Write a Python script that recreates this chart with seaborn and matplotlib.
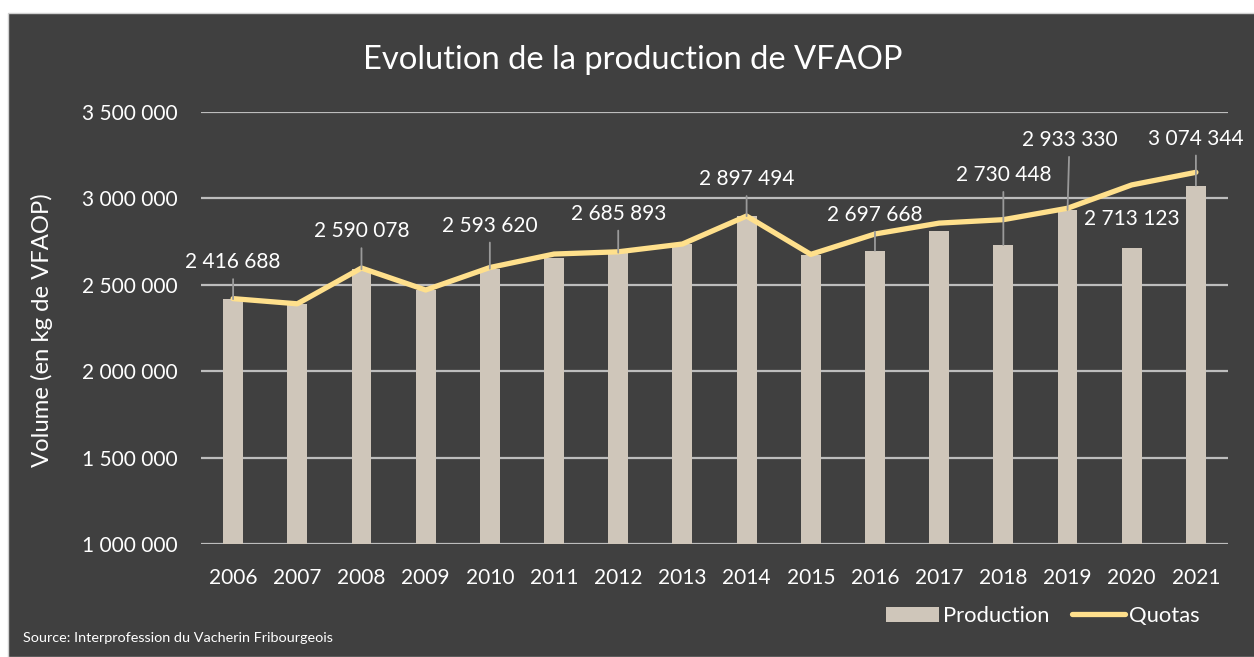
import numpy as np
import pandas as pd
import matplotlib
matplotlib.use("Agg")
import matplotlib.pyplot as plt
import seaborn as sns
from matplotlib.patches import Rectangle, Patch
from matplotlib.lines import Line2D

# ---------------- data ----------------
years = [str(y) for y in range(2006, 2022)]
production = [2416688, 2389000, 2590078, 2470000, 2593620, 2655000, 2685893, 2734000,
              2897494, 2672000, 2697668, 2811000, 2730448, 2933330, 2713123, 3074344]
quotas = [2420000, 2390000, 2597000, 2470000, 2600000, 2678000, 2691000, 2736000,
          2898000, 2676000, 2794000, 2857000, 2877000, 2943000, 3078000, 3151000]
labelled_years = ["2006", "2008", "2010", "2012", "2014", "2016", "2018", "2019", "2020", "2021"]
y_ticks = [1000000, 1500000, 2000000, 2500000, 3000000, 3500000]

title = "Evolution de la production de VFAOP"
y_label = "Volume (en kg de VFAOP)"
source = "Source: Interprofession du Vacherin Fribourgeois"
legend_labels = ["Production", "Quotas"]

# label placement (pixel offsets from bar top, leader line on/off)
label_layout = {
    "2006": (0, 37, True), "2008": (0, 38, True), "2010": (0, 43, True),
    "2012": (0, 39, True), "2014": (0, 37, True), "2016": (0, 36, True),
    "2018": (0, 70, True), "2019": (2, 70, True), "2020": (0, 29, False),
    "2021": (0, 47, True),
}

# ---------------- style ----------------
BG = "#404040"
BAR = "#CFC6BA"
LINE = "#FFE08C"
GRID = "#BDBDBD"
LEADER = "#9A9A9A"
TXT = "#FFFFFF"

def fmt(v):
    return f"{int(v):,}".replace(",", " ")

plt.rcParams["font.family"] = ["Lato", "DejaVu Sans"]

W, H = 1254, 657
fig = plt.figure(figsize=(W / 100, H / 100), dpi=100, facecolor="white")
fig.patches.append(Rectangle((8 / W, 0), 1, (H - 13) / H, transform=fig.transFigure,
                             facecolor=BG, edgecolor="#D0D0D0", linewidth=1.0, zorder=-10))

ax = fig.add_axes([201 / W, 1 - 544 / H, (1228 - 201) / W, (544 - 112) / H])
ax.set_facecolor("none")

df = pd.DataFrame({"year": years, "production": production, "quotas": quotas})
sns.barplot(data=df, x="year", y="production", color=BAR, width=0.31, ax=ax,
            saturation=1, zorder=2)
sns.lineplot(x=np.arange(len(years)), y=df["quotas"], color=LINE, linewidth=3.8,
             ax=ax, zorder=3, solid_joinstyle="round", solid_capstyle="round")

ax.set_xlim(-0.5, len(years) - 0.5)
ax.set_ylim(y_ticks[0], y_ticks[-1])
ax.set_yticks(y_ticks)
ax.set_yticklabels([fmt(v) for v in y_ticks])
ax.grid(axis="y", color=GRID, linewidth=1.6, zorder=0)
ax.grid(axis="x", visible=False)
ax.set_axisbelow(True)
for s in ax.spines.values():
    s.set_visible(False)
ax.tick_params(axis="both", length=0, colors=TXT, labelsize=15)
ax.tick_params(axis="y", pad=16.5)
ax.tick_params(axis="x", pad=17)
ax.set_xlabel("")
ax.set_ylabel("")

# data labels
for i, yr in enumerate(years):
    if yr in label_layout:
        dx, dy, leader = label_layout[yr]
        val = production[i]
        ap = dict(arrowstyle="-", color=LEADER, linewidth=1.3, shrinkA=3, shrinkB=0) if leader else None
        ax.annotate(fmt(val), xy=(i, val), xytext=(dx, dy), textcoords="offset pixels",
                    ha="center", va="center", color=TXT, fontsize=15,
                    arrowprops=ap, zorder=5)

fig.text(633 / W, 1 - 60 / H, title, ha="center", va="center", color=TXT, fontsize=23.6)
fig.text(42 / W, 1 - 330 / H, y_label, ha="center", va="center", rotation=90,
         color=TXT, fontsize=17.2)
fig.text(23 / W, 1 - 638 / H, source, ha="left", va="center", color=TXT, fontsize=10.4)

handles = [Patch(facecolor=BAR, edgecolor="none"),
           Line2D([0], [0], color=LINE, linewidth=3.8, solid_capstyle="round")]
leg = fig.legend(handles, legend_labels, loc="center", bbox_to_anchor=(1043 / W, 1 - 616 / H),
                 ncol=2, frameon=False, fontsize=15.8, handlelength=2.4, handleheight=0.65,
                 handletextpad=0.2, columnspacing=1.0, labelcolor=TXT)

fig.savefig("out.png", dpi=100, facecolor=fig.get_facecolor())
